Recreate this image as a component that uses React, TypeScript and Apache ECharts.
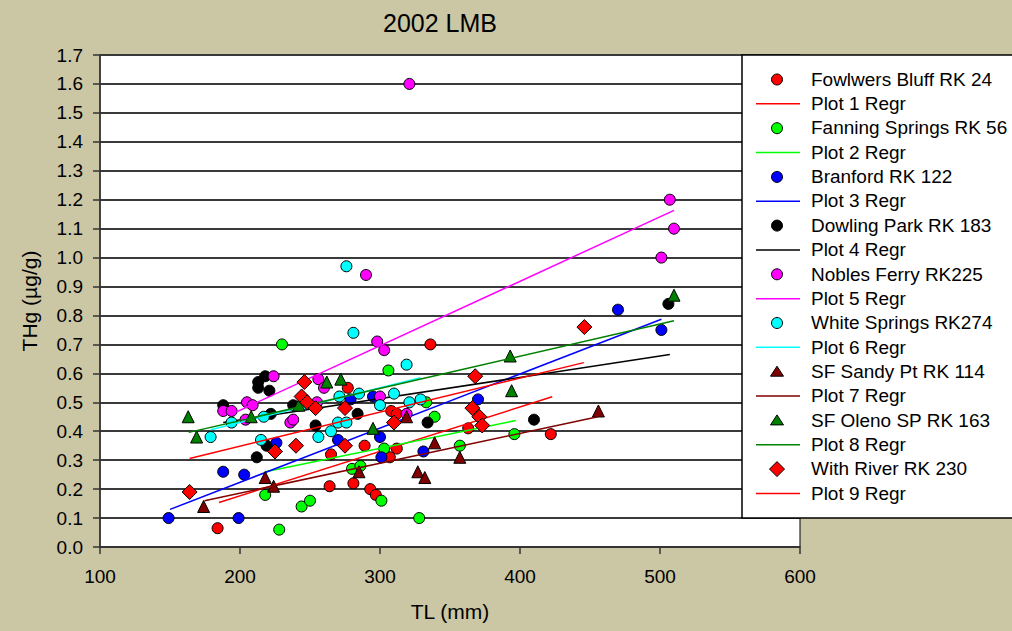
import React, { useEffect, useRef } from "react";
import * as echarts from "echarts";

const FONT = "'Liberation Sans', Arial, sans-serif";

const chartTitle = "2002 LMB";
const xAxisName = "TL (mm)";
const yAxisName = "THg (µg/g)";

const seriesNames = [
  "Fowlwers Bluff RK 24",
  "Fanning Springs RK 56",
  "Branford RK 122",
  "Dowling Park RK 183",
  "Nobles Ferry RK225",
  "White Springs RK274",
  "SF Sandy Pt RK 114",
  "SF Oleno SP RK 163",
  "With River RK 230",
];
const regrNames = [
  "Plot 1 Regr",
  "Plot 2 Regr",
  "Plot 3 Regr",
  "Plot 4 Regr",
  "Plot 5 Regr",
  "Plot 6 Regr",
  "Plot 7 Regr",
  "Plot 8 Regr",
  "Plot 9 Regr",
];

// [TL (mm), THg (ug/g)]
const fowlwersBluff = [
  [184, 0.065], [264, 0.21], [281, 0.22], [293, 0.2], [297, 0.18], [265, 0.32],
  [289, 0.35], [277, 0.55], [336, 0.7], [308, 0.47], [312, 0.46], [307, 0.31],
  [312, 0.34], [363, 0.41], [422, 0.39],
];
const fanningSprings = [
  [230, 0.7], [306, 0.61], [333, 0.5], [339, 0.45], [303, 0.34], [280, 0.27],
  [286, 0.28], [218, 0.18], [244, 0.14], [250, 0.16], [301, 0.16], [228, 0.06],
  [328, 0.1], [357, 0.35], [396, 0.39],
];
const branford = [
  [149, 0.1], [199, 0.1], [188, 0.26], [203, 0.25], [226, 0.36], [270, 0.37],
  [279, 0.51], [295, 0.52], [300, 0.38], [301, 0.31], [331, 0.33], [370, 0.51],
  [470, 0.82], [501, 0.75],
];
const dowlingPark = [
  [188, 0.49], [213, 0.57], [218, 0.59], [213, 0.55], [221, 0.54], [222, 0.46],
  [219, 0.35], [212, 0.31], [238, 0.49], [254, 0.42], [284, 0.46], [334, 0.43],
  [410, 0.44], [506, 0.84],
];
const noblesFerry = [
  [321, 1.6], [290, 0.94], [298, 0.71], [303, 0.68], [224, 0.59], [256, 0.58],
  [260, 0.55], [188, 0.47], [194, 0.47], [205, 0.5], [209, 0.49], [204, 0.44],
  [236, 0.43], [238, 0.44], [255, 0.5], [300, 0.52], [319, 0.46], [507, 1.2],
  [510, 1.1], [501, 1.0],
];
const whiteSprings = [
  [276, 0.97], [281, 0.74], [319, 0.63], [310, 0.53], [300, 0.49], [321, 0.5],
  [329, 0.51], [271, 0.52], [285, 0.53], [270, 0.43], [276, 0.43], [265, 0.4],
  [256, 0.38], [217, 0.45], [194, 0.43], [179, 0.38], [215, 0.37], [244, 0.49],
];
const sfSandyPt = [
  [174, 0.14], [218, 0.24], [224, 0.21], [285, 0.26], [319, 0.45], [327, 0.26],
  [332, 0.24], [339, 0.36], [357, 0.31], [456, 0.47],
];
const sfOlenoSP = [
  [163, 0.45], [169, 0.38], [208, 0.45], [242, 0.49], [262, 0.57], [272, 0.58],
  [295, 0.41], [393, 0.66], [394, 0.54], [510, 0.87],
];
const withRiver = [
  [164, 0.19], [225, 0.33], [240, 0.35], [246, 0.57], [244, 0.52], [248, 0.5],
  [254, 0.48], [275, 0.35], [275, 0.48], [310, 0.43], [446, 0.76], [368, 0.59],
  [366, 0.48], [371, 0.45], [373, 0.42],
];

// regression line end points
const regr1 = [[185, 0.154], [423, 0.519]];
const regr2 = [[218, 0.26], [397, 0.437]];
const regr3 = [[150, 0.13], [501, 0.787]];
const regr4 = [[188, 0.43], [507, 0.665]];
const regr5 = [[197.5, 0.467], [510, 1.163]];
const regr6 = [[179, 0.405], [329, 0.585]];
const regr7 = [[174.6, 0.16], [455.6, 0.45]];
const regr8 = [[163.4, 0.396], [510, 0.782]];
const regr9 = [[164, 0.306], [445.6, 0.637]];

const scatterData = [fowlwersBluff, fanningSprings, branford, dowlingPark, noblesFerry, whiteSprings, sfSandyPt, sfOlenoSP, withRiver];
const regrData = [regr1, regr2, regr3, regr4, regr5, regr6, regr7, regr8, regr9];
const markerColors = ["#FF0000", "#00FF00", "#0000FF", "#000000", "#FF00FF", "#00FFFF", "#800000", "#008000", "#FF0000"];
const lineColors = ["#FF0000", "#00FF00", "#0000FF", "#000000", "#FF00FF", "#00FFFF", "#800000", "#008000", "#FF0000"];
const markerShapes = ["circle", "circle", "circle", "circle", "circle", "circle", "triangle", "triangle", "diamond"];

const xTicks = { min: 100, max: 600, interval: 100 };
const yTicks = { min: 0, max: 1.7, interval: 0.1 };

function buildLegend() {
  const Z = 100;
  const children: any[] = [];
  const boxX = 742;
  const boxY = 55;
  children.push({
    type: "rect",
    z: Z,
    shape: { x: boxX, y: boxY, width: 290, height: 463 },
    style: { fill: "#FFFFFF", stroke: "#000000", lineWidth: 1.5 },
  });
  const firstY = 79.5;
  const step = 24.35;
  const mx = 777;
  for (let i = 0; i < seriesNames.length; i++) {
    const y1 = firstY + step * (2 * i);
    const y2 = firstY + step * (2 * i + 1);
    const shape = markerShapes[i];
    const fill = markerColors[i];
    if (shape === "circle") {
      children.push({
        type: "circle",
        z: Z + 1,
        shape: { cx: mx, cy: y1, r: 5.5 },
        style: { fill, stroke: "#000", lineWidth: 1 },
      });
    } else if (shape === "triangle") {
      children.push({
        type: "polygon",
        z: Z + 1,
        shape: { points: [[mx, y1 - 5.5], [mx + 6.5, y1 + 4.5], [mx - 6.5, y1 + 4.5]] },
        style: { fill, stroke: "#000", lineWidth: 1 },
      });
    } else {
      children.push({
        type: "polygon",
        z: Z + 1,
        shape: { points: [[mx, y1 - 7.5], [mx + 7.5, y1], [mx, y1 + 7.5], [mx - 7.5, y1]] },
        style: { fill, stroke: "#000", lineWidth: 1 },
      });
    }
    children.push({
      type: "text",
      z: Z + 1,
      x: 811,
      y: y1,
      scaleX: 1.085,
      style: { text: seriesNames[i], fontSize: 17.5, fontFamily: FONT, fill: "#000", verticalAlign: "middle", align: "left" },
    });
    children.push({
      type: "line",
      z: Z + 1,
      shape: { x1: 756, y1: y2, x2: 800, y2: y2 },
      style: { stroke: lineColors[i], lineWidth: 1.5 },
    });
    children.push({
      type: "text",
      z: Z + 1,
      x: 811,
      y: y2,
      scaleX: 1.085,
      style: { text: regrNames[i], fontSize: 17.5, fontFamily: FONT, fill: "#000", verticalAlign: "middle", align: "left" },
    });
  }
  return { type: "group", z: Z, silent: true, children };
}

export default function App() {
  const ref = useRef<HTMLDivElement>(null);
  useEffect(() => {
    if (!ref.current) return;
    const chart = echarts.init(ref.current, null, { renderer: "svg" });
    const series: any[] = [];
    for (let i = 0; i < seriesNames.length; i++) {
      const shape = markerShapes[i];
      series.push({
        type: "scatter",
        name: seriesNames[i],
        data: scatterData[i],
        symbol: shape,
        symbolSize: shape === "circle" ? 11 : shape === "triangle" ? 12 : 15,
        itemStyle: { color: markerColors[i], borderColor: "#000", borderWidth: 1, opacity: 1 },
        z: 2 + i * 2,
        silent: true,
      });
      series.push({
        type: "line",
        name: regrNames[i],
        data: regrData[i],
        symbol: "none",
        showSymbol: false,
        lineStyle: { color: lineColors[i], width: 1.5 },
        z: 3 + i * 2,
        silent: true,
      });
    }
    chart.setOption({
      animation: false,
      backgroundColor: "#CBC6A3",
      textStyle: { fontFamily: FONT },
      title: {
        text: chartTitle,
        left: 435,
        top: 5,
        textAlign: "center",
        textStyle: { fontSize: 25, fontWeight: "normal", color: "#000", fontFamily: FONT },
      },
      grid: {
        left: 100,
        top: 55,
        width: 700,
        height: 492,
        show: true,
        backgroundColor: "#FFFFFF",
        borderColor: "#000",
        borderWidth: 1,
      },
      xAxis: {
        type: "value",
        min: xTicks.min,
        max: xTicks.max,
        interval: xTicks.interval,
        name: xAxisName,
        nameLocation: "middle",
        nameGap: 54,
        nameTextStyle: { fontSize: 21, color: "#000", fontFamily: FONT },
        axisLine: { show: true, onZero: false, lineStyle: { color: "#333", width: 1.5 } },
        axisTick: { show: true, inside: false, length: 7, lineStyle: { color: "#333", width: 1.5 } },
        axisLabel: { fontSize: 19, color: "#000", margin: 20, fontFamily: FONT },
        splitLine: { show: false },
      },
      yAxis: {
        type: "value",
        min: yTicks.min,
        max: yTicks.max,
        interval: yTicks.interval,
        name: yAxisName,
        nameLocation: "middle",
        nameGap: 60,
        nameRotate: 90,
        nameTextStyle: { fontSize: 21, color: "#000", fontFamily: FONT },
        axisLine: { show: true, lineStyle: { color: "#333", width: 1.5 } },
        axisTick: { show: true, inside: false, length: 7, lineStyle: { color: "#333", width: 1.5 } },
        axisLabel: {
          fontSize: 19,
          color: "#000",
          margin: 17,
          fontFamily: FONT,
          formatter: (v: number) => v.toFixed(1),
        },
        splitLine: { show: true, lineStyle: { color: "#3A3A3A", width: 2 } },
      },
      graphic: [buildLegend()],
      series,
    });
    return () => chart.dispose();
  }, []);
  return <div ref={ref} style={{ position: "absolute", left: 0, top: 0, width: 1012, height: 631 }} />;
}
